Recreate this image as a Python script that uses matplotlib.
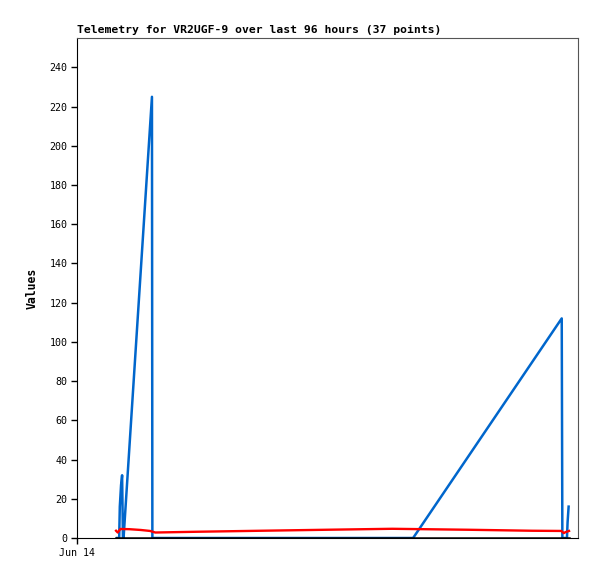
import matplotlib
matplotlib.use("Agg")
import matplotlib.pyplot as plt

# time axis in hours after Jun 14 00:00 (axis spans 24 h)
blue_t = [1.92, 2.02, 2.05, 2.11, 2.16, 2.20, 2.23, 3.59, 3.61, 16.10,
          23.22, 23.25, 23.47, 23.50, 23.55]
blue_v = [0, 0, 16, 27, 32, 0, 0, 225, 0, 0,
          112, 0, 0, 8, 16]

red_t = [1.87, 1.95, 2.08, 2.50, 3.05, 3.50, 3.75, 5.80, 8.80, 11.90,
         15.10, 18.80, 21.80, 23.20, 23.32, 23.40, 23.57]
red_v = [3.7, 2.8, 4.6, 4.5, 4.1, 3.6, 2.8, 3.2, 3.7, 4.2,
         4.7, 4.2, 3.7, 3.6, 2.5, 3.0, 3.6]

black_t = [1.87, 23.57]
black_v = [0, 0]

y_ticks = list(range(0, 241, 20))

plt.rcParams['font.family'] = ['DejaVu Sans Mono']

fig = plt.figure(figsize=(5.97, 5.79), dpi=100)
ax = fig.add_axes([0.129, 0.0708, 0.8392, 0.8636])

ax.plot(blue_t, blue_v, color='#0066CC', linewidth=1.8, zorder=3)
ax.plot(red_t, red_v, color='#FF0000', linewidth=1.7, zorder=4)
ax.plot(black_t, black_v, color='black', linewidth=1.8, zorder=5)

ax.set_xlim(0, 24)
ax.set_ylim(0, 255)
ax.set_yticks(y_ticks)
ax.set_xticks([0])
ax.set_xticklabels(['Jun 14'])
ax.tick_params(axis='both', direction='out', length=4, width=1, labelsize=7.2, pad=3)

for side in ['top', 'right']:
    ax.spines[side].set_color('#555555')
for side in ['left', 'bottom']:
    ax.spines[side].set_color('black')

ax.set_ylabel('Values', fontsize=8.3, fontweight='bold', labelpad=8)
ax.set_title('Telemetry for VR2UGF-9 over last 96 hours (37 points)',
             loc='left', fontsize=8.2, fontweight='bold', pad=3.5)

fig.savefig('out.png', dpi=100)
